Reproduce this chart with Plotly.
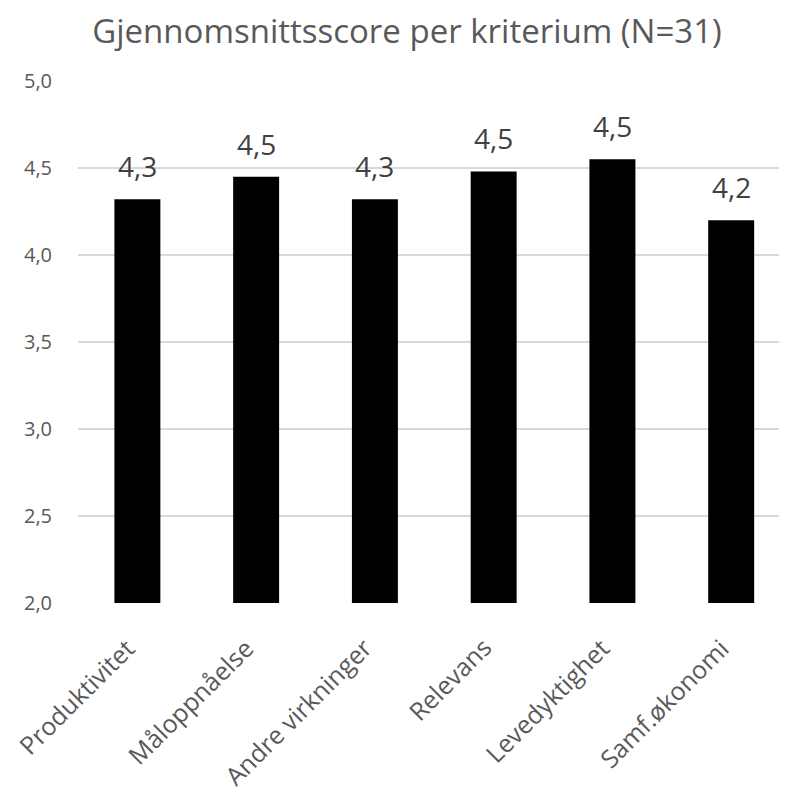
import plotly.graph_objects as go

categories = ["Produktivitet", "Måloppnåelse", "Andre virkninger", "Relevans", "Levedyktighet", "Samf.økonomi"]
scores = [4.32, 4.45, 4.32, 4.48, 4.55, 4.20]
y_ticks = [2.0, 2.5, 3.0, 3.5, 4.0, 4.5, 5.0]
y_min, y_max = 2.0, 5.0

FONT = "Open Sans"
W, H = 779, 788  # page adds an 8px body margin

fig = go.Figure(go.Bar(
    x=categories, y=scores,
    marker=dict(color="#000000", line=dict(width=0)),
    width=0.387,
    hoverinfo="x+y",
))

for c, v in zip(categories, scores):
    fig.add_annotation(x=c, y=v, text=f"{v:.1f}".replace(".", ","), showarrow=False,
                       xanchor="center", yanchor="bottom", yshift=12,
                       font=dict(size=28, color="#404040", family=FONT))

# rotated category labels
for c in categories:
    fig.add_annotation(x=c, y=y_min, text=c, showarrow=False, textangle=-45,
                       xanchor="right", yanchor="top", xshift=7, yshift=-25,
                       font=dict(size=25, color="#595959", family=FONT))

fig.update_layout(
    width=W, height=H,
    separators=",.",
    plot_bgcolor="white", paper_bgcolor="white",
    margin=dict(l=70, r=0, t=73, b=193),
    title=dict(text="Gjennomsnittsscore per kriterium (N=31)", x=399 / W, xanchor="center",
               xref="container",
               y=1 - 23 / H, yanchor="middle", yref="container",
               font=dict(size=33, color="#595959", family=FONT)),
    font=dict(family=FONT, color="#595959"),
    showlegend=False,
)
fig.update_xaxes(range=[-0.5, 5.47], showticklabels=False,
                 showgrid=False, showline=False, ticks="")
fig.update_yaxes(range=[y_min, y_max], tickvals=y_ticks, tickformat=".1f",
                 tickfont=dict(size=20, color="#595959"),
                 showgrid=True, gridcolor="#d9d9d9", gridwidth=1.5, zeroline=False,
                 showline=False, ticks="", ticklabelstandoff=25)

fig.write_html("out.html")
